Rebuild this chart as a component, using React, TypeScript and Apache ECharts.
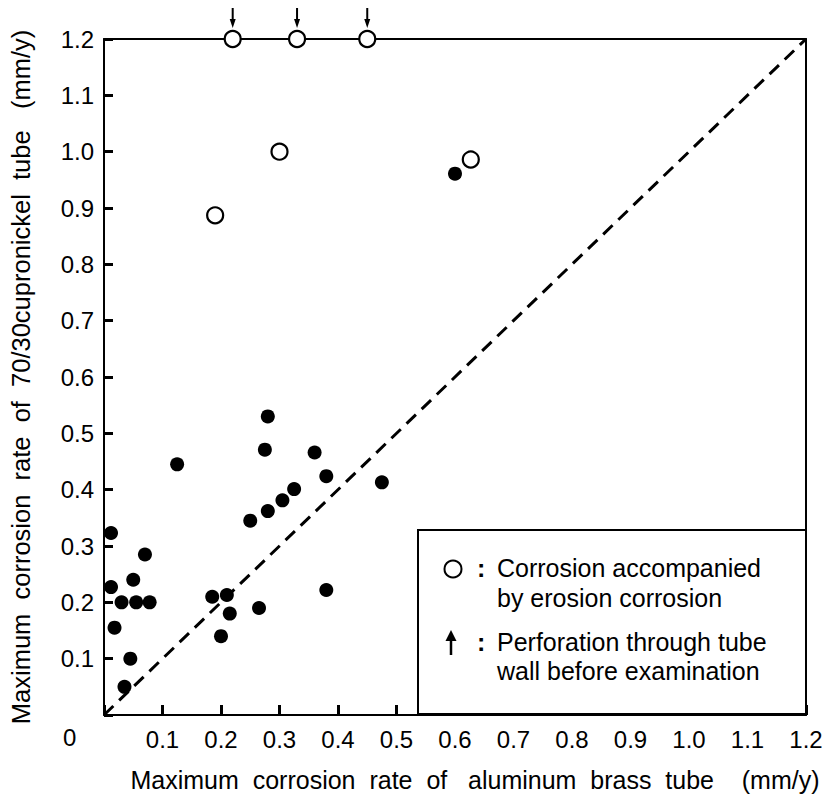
import React, { useEffect, useRef } from "react";
import * as echarts from "echarts";

// Filled circles: plain corrosion (x: aluminum brass, y: 70/30 cupronickel), mm/y
const filledPoints: [number, number][] = [
  [0.012, 0.323], [0.07, 0.285], [0.05, 0.24], [0.012, 0.227],
  [0.03, 0.2], [0.055, 0.2], [0.078, 0.2], [0.018, 0.155],
  [0.045, 0.1], [0.035, 0.05], [0.125, 0.445],
  [0.185, 0.21], [0.21, 0.213], [0.215, 0.18], [0.2, 0.14], [0.265, 0.19],
  [0.25, 0.345], [0.28, 0.362], [0.305, 0.381], [0.325, 0.401],
  [0.275, 0.471], [0.28, 0.53], [0.36, 0.466], [0.38, 0.424],
  [0.38, 0.222], [0.475, 0.413], [0.6, 0.961],
];

// Open circles: corrosion accompanied by erosion corrosion
const openPoints: [number, number][] = [
  [0.19, 0.887], [0.3, 1.0], [0.627, 0.986],
  [0.22, 1.2], [0.33, 1.2], [0.45, 1.2],
];

// Perforation through tube wall before examination (arrows above the top circles)
const perforationPoints: [number, number][] = [
  [0.22, 1.2], [0.33, 1.2], [0.45, 1.2],
];

// Reference line y = x
const diagonal: [number, number][] = [[0, 0], [1.2, 1.2]];

const xAxisTitle = "Maximum\u00a0 corrosion\u00a0 rate\u00a0 of\u00a0\u00a0 aluminum\u00a0 brass\u00a0 tube\u00a0\u00a0\u00a0\u00a0(mm/y)";
const yAxisTitle = "Maximum\u00a0 corrosion\u00a0 rate\u00a0 of\u00a0 70/30cupronickel\u00a0 tube\u00a0\u00a0\u00a0(mm/y)";
const legendLines = [
  "Corrosion accompanied",
  "by erosion corrosion",
  "Perforation through tube",
  "wall before examination",
];

const SANS = "'Liberation Sans', 'DejaVu Sans', sans-serif";

export default function App() {
  const ref = useRef<HTMLDivElement>(null);

  useEffect(() => {
    if (!ref.current) return;
    const chart = echarts.init(ref.current, undefined, { renderer: "svg" });
    const tickFmt = (v: number) => (Math.abs(v) < 1e-9 ? "" : v.toFixed(1));
    const legendTextStyle = { fill: "#000", fontSize: 25, fontFamily: SANS };
    const frameAxis = {
      type: "value",
      min: 0,
      max: 1.2,
      interval: 0.1,
      axisLine: { show: true, onZero: false, lineStyle: { color: "#000", width: 2 } },
      axisTick: { show: false },
      axisLabel: { show: false },
      splitLine: { show: false },
    };
    chart.setOption({
      animation: false,
      backgroundColor: "#fff",
      grid: { left: 98, right: 24, top: 39, bottom: 96 },
      xAxis: [
        {
          type: "value",
          min: 0,
          max: 1.2,
          interval: 0.1,
          name: xAxisTitle,
          nameLocation: "middle",
          nameGap: 52,
          nameTextStyle: { color: "#000", fontSize: 25, fontFamily: SANS, padding: [0, 0, 0, 40] },
          axisLine: { show: true, onZero: false, lineStyle: { color: "#000", width: 2 } },
          axisTick: { show: true, inside: true, length: 10, lineStyle: { color: "#000", width: 3 } },
          axisLabel: { show: true, formatter: tickFmt, color: "#000", fontSize: 24, fontFamily: SANS, margin: 12 },
          splitLine: { show: false },
        },
        { ...frameAxis, position: "top" },
      ],
      yAxis: [
        {
          type: "value",
          min: 0,
          max: 1.2,
          interval: 0.1,
          name: yAxisTitle,
          nameLocation: "middle",
          nameRotate: 90,
          nameGap: 70,
          nameTextStyle: { color: "#000", fontSize: 25.5, fontFamily: SANS },
          axisLine: { show: true, onZero: false, lineStyle: { color: "#000", width: 2 } },
          axisTick: { show: true, inside: true, length: 9, lineStyle: { color: "#000", width: 3 } },
          axisLabel: { show: true, formatter: tickFmt, color: "#000", fontSize: 24, fontFamily: SANS, margin: 10 },
          splitLine: { show: false },
        },
        { ...frameAxis, position: "right" },
      ],
      series: [
        {
          type: "line",
          data: diagonal,
          symbol: "none",
          lineStyle: { color: "#000", width: 3, type: [13, 8] },
          silent: true,
        },
        {
          type: "scatter",
          data: filledPoints,
          symbol: "circle",
          symbolSize: 14,
          itemStyle: { color: "#000", opacity: 1 },
        },
        {
          type: "scatter",
          data: openPoints,
          symbol: "circle",
          symbolSize: 16,
          itemStyle: { color: "#fff", borderColor: "#000", borderWidth: 2.2, opacity: 1 },
        },
        {
          type: "scatter",
          data: perforationPoints,
          symbol: "path://M2,0 L4,0 L4,11 L6,11 L3,20 L0,11 L2,11 Z",
          symbolSize: [6, 20],
          symbolOffset: [0, -21],
          itemStyle: { color: "#000", opacity: 1 },
          clip: false,
        },
      ],
      graphic: [
        {
          type: "text",
          left: 63,
          top: 725,
          style: { text: "0", fill: "#000", fontSize: 24, fontFamily: SANS },
        },
        {
          type: "rect",
          shape: { x: 418, y: 530, width: 388, height: 184 },
          style: { fill: "#fff", stroke: "#000", lineWidth: 2 },
          z: 10,
        },
        {
          type: "circle",
          shape: { cx: 453, cy: 569, r: 8.5 },
          style: { fill: "none", stroke: "#000", lineWidth: 2 },
          z: 11,
        },
        { type: "text", x: 477, y: 555, z: 11, style: { text: ":", ...legendTextStyle, fontWeight: "bold" } },
        { type: "text", x: 497, y: 555, z: 11, style: { text: legendLines[0], ...legendTextStyle } },
        { type: "text", x: 497, y: 585, z: 11, style: { text: legendLines[1], ...legendTextStyle } },
        {
          type: "line",
          shape: { x1: 451, y1: 634, x2: 451, y2: 655 },
          style: { stroke: "#000", lineWidth: 2.5 },
          z: 11,
        },
        {
          type: "polygon",
          shape: { points: [[445.5, 641], [451, 630], [456.5, 641]] },
          style: { fill: "#000" },
          z: 11,
        },
        { type: "text", x: 477, y: 629, z: 11, style: { text: ":", ...legendTextStyle, fontWeight: "bold" } },
        { type: "text", x: 497, y: 629, z: 11, style: { text: legendLines[2], ...legendTextStyle } },
        { type: "text", x: 497, y: 658, z: 11, style: { text: legendLines[3], ...legendTextStyle } },
      ],
    });
    return () => chart.dispose();
  }, []);

  return <div ref={ref} style={{ width: 830, height: 811, margin: -8 }} />;
}
